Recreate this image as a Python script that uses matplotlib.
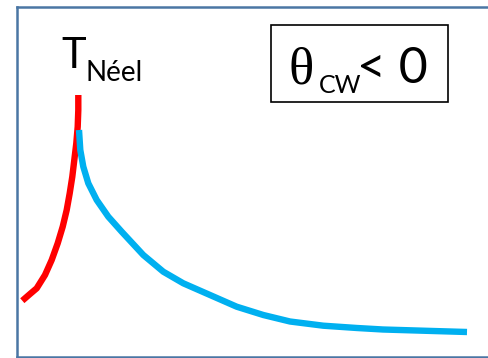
import matplotlib
matplotlib.use("Agg")
import matplotlib.pyplot as plt
from matplotlib.patches import Rectangle

W, H = 489, 358

# Susceptibility sketch: ordered (below T_Neel) and paramagnetic (above) branches
t_ordered = [5.3, 13.0, 19.7, 28.0, 34.7, 40.7, 45.7, 49.7, 52.7, 55.3,
             57.3, 59.3, 60.7, 61.3, 61.3]
chi_ordered = [55.8, 62.5, 68.2, 81.5, 96.5, 113.2, 129.8, 146.5, 163.2, 179.8,
               196.5, 213.2, 229.8, 246.5, 261.5]

t_para = [62.0, 63.3, 66.3, 71.3, 79.7, 91.3, 104.7, 126.3, 146.3, 166.3,
          193.0, 219.7, 246.3, 273.0, 306.3, 340.0, 366.0, 416.0, 450.0]
chi_para = [226.5, 206.5, 189.8, 173.2, 156.5, 139.8, 124.8, 101.5, 84.8, 73.2,
            61.5, 49.8, 41.5, 35.0, 30.8, 28.5, 27.0, 25.5, 24.5]

RED = "#FF0000"
BLUE = "#00B0F0"
FRAME = "#4A76A4"


def fx(x):
    return x / W


def fy(y):
    return 1 - y / H


fig = plt.figure(figsize=(W / 100, H / 100), dpi=100)
ax = fig.add_axes([fx(17), fy(356.5), fx(W - 17 + 10), (356.5 - 7) / H])
ax.set_xlim(0, W - 17 + 10)
ax.set_ylim(0, 349.5)

ax.plot(t_ordered, chi_ordered, color=RED, lw=4.6,
        solid_capstyle="butt", solid_joinstyle="round")
ax.plot(t_para, chi_para, color=BLUE, lw=4.6,
        solid_capstyle="butt", solid_joinstyle="round")

ax.set_xticks([]); ax.set_yticks([])
ax.spines["right"].set_visible(False)
for s in ("left", "top", "bottom"):
    ax.spines[s].set_color(FRAME)
    ax.spines[s].set_linewidth(1.8)

# T_Neel label
fig.text(fx(61), fy(68), "T", fontsize=30, family="Lato", va="baseline")
fig.text(fx(86), fy(81), "Néel", fontsize=20, family="Lato", va="baseline")

# theta_CW < 0 box
fig.patches.append(Rectangle((fx(271), fy(102)), fx(448 - 271), (102 - 25) / H,
                             transform=fig.transFigure, fill=False,
                             edgecolor="black", lw=1.2))
fig.text(fx(289), fy(83), "θ", fontsize=38, family="Liberation Serif",
         va="baseline")
fig.text(fx(319), fy(93), "CW", fontsize=18, family="Lato", va="baseline")
fig.text(fx(357), fy(83), "< 0", fontsize=36, family="Lato", va="baseline")

fig.savefig("out.png", dpi=100)
